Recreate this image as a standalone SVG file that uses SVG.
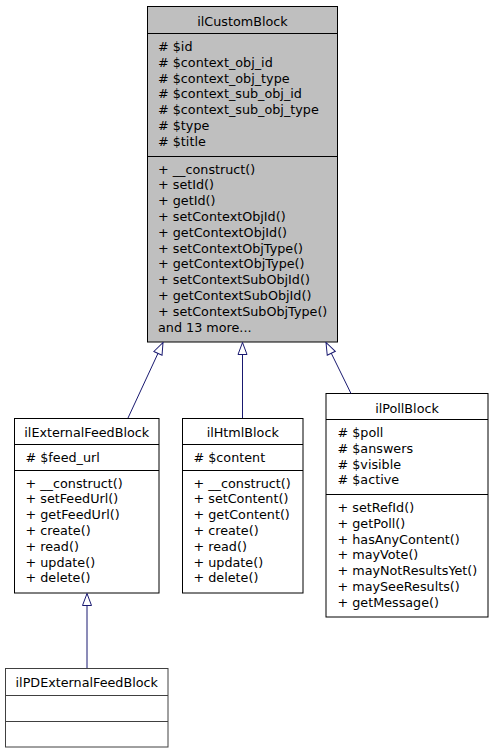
<svg xmlns="http://www.w3.org/2000/svg" width="492" height="755" viewBox="0 0 492 755">
<style>
text{font-family:"DejaVu Sans","Liberation Sans",sans-serif;font-size:12.75px;fill:#000}
.t{text-anchor:middle}
.box{fill:#fff;stroke:#000;stroke-width:1}
.main{fill:#bfbfbf;stroke:#000;stroke-width:1}
.sep{stroke:#000;stroke-width:1}
.edge{fill:none;stroke:#191970;stroke-width:1}
</style>
<defs>
<marker id="inh" markerWidth="14" markerHeight="12" refX="13" refY="6" orient="auto" markerUnits="userSpaceOnUse" viewBox="0 0 14 12">
<path d="M13,6 L1,1.5 L1,10.5 Z" fill="#fff" stroke="#191970" stroke-width="1"/>
</marker>
</defs>
<rect width="492" height="755" fill="#fff"/>
<g id="ilCustomBlock">
<rect class="main" x="147.5" y="6.5" width="190" height="335.5"/>
<line class="sep" x1="147.5" y1="33.5" x2="337.5" y2="33.5"/>
<line class="sep" x1="147.5" y1="156.5" x2="337.5" y2="156.5"/>
<text class="t" x="242.5" y="25.5">ilCustomBlock</text>
<text x="158" y="51"># $id</text>
<text x="158" y="66.8"># $context_obj_id</text>
<text x="158" y="82.6"># $context_obj_type</text>
<text x="158" y="98.4"># $context_sub_obj_id</text>
<text x="158" y="114.2"># $context_sub_obj_type</text>
<text x="158" y="130"># $type</text>
<text x="158" y="145.8"># $title</text>
<text x="158" y="173.5">+ __construct()</text>
<text x="158" y="189.3">+ setId()</text>
<text x="158" y="205.1">+ getId()</text>
<text x="158" y="220.9">+ setContextObjId()</text>
<text x="158" y="236.7">+ getContextObjId()</text>
<text x="158" y="252.5">+ setContextObjType()</text>
<text x="158" y="268.3">+ getContextObjType()</text>
<text x="158" y="284.1">+ setContextSubObjId()</text>
<text x="158" y="299.9">+ getContextSubObjId()</text>
<text x="158" y="315.7">+ setContextSubObjType()</text>
<text x="158" y="331.5">and 13 more...</text>
</g>
<g id="ilExternalFeedBlock">
<rect class="box" x="14.5" y="418.5" width="144.5" height="174.5"/>
<line class="sep" x1="14.5" y1="444.5" x2="159" y2="444.5"/>
<line class="sep" x1="14.5" y1="470.5" x2="159" y2="470.5"/>
<text class="t" x="86.75" y="437">ilExternalFeedBlock</text>
<text x="25.5" y="461.5"># $feed_url</text>
<text x="25.5" y="487.5">+ __construct()</text>
<text x="25.5" y="503.3">+ setFeedUrl()</text>
<text x="25.5" y="519.1">+ getFeedUrl()</text>
<text x="25.5" y="534.9">+ create()</text>
<text x="25.5" y="550.7">+ read()</text>
<text x="25.5" y="566.5">+ update()</text>
<text x="25.5" y="582.3">+ delete()</text>
</g>
<g id="ilHtmlBlock">
<rect class="box" x="182.5" y="418.5" width="120.5" height="174.5"/>
<line class="sep" x1="182.5" y1="444.5" x2="303" y2="444.5"/>
<line class="sep" x1="182.5" y1="470.5" x2="303" y2="470.5"/>
<text class="t" x="242.75" y="437">ilHtmlBlock</text>
<text x="193.5" y="461.5"># $content</text>
<text x="193.5" y="487.5">+ __construct()</text>
<text x="193.5" y="503.3">+ setContent()</text>
<text x="193.5" y="519.1">+ getContent()</text>
<text x="193.5" y="534.9">+ create()</text>
<text x="193.5" y="550.7">+ read()</text>
<text x="193.5" y="566.5">+ update()</text>
<text x="193.5" y="582.3">+ delete()</text>
</g>
<g id="ilPollBlock">
<rect class="box" x="326" y="393.5" width="162" height="223.5"/>
<line class="sep" x1="326" y1="419.5" x2="488" y2="419.5"/>
<line class="sep" x1="326" y1="494.5" x2="488" y2="494.5"/>
<text class="t" x="407" y="413">ilPollBlock</text>
<text x="337.5" y="437"># $poll</text>
<text x="337.5" y="452.8"># $answers</text>
<text x="337.5" y="468.6"># $visible</text>
<text x="337.5" y="484.4"># $active</text>
<text x="337.5" y="512">+ setRefId()</text>
<text x="337.5" y="527.8">+ getPoll()</text>
<text x="337.5" y="543.6">+ hasAnyContent()</text>
<text x="337.5" y="559.4">+ mayVote()</text>
<text x="337.5" y="575.2">+ mayNotResultsYet()</text>
<text x="337.5" y="591">+ maySeeResults()</text>
<text x="337.5" y="606.8">+ getMessage()</text>
</g>
<g id="ilPDExternalFeedBlock">
<rect class="box" x="5.5" y="668.5" width="162.5" height="78.5" style="stroke:#404040"/>
<line class="sep" x1="5.5" y1="695.5" x2="168" y2="695.5" style="stroke:#404040"/>
<line class="sep" x1="5.5" y1="721.5" x2="168" y2="721.5" style="stroke:#404040"/>
<text class="t" x="86.75" y="687">ilPDExternalFeedBlock</text>
</g>
<g id="connectors">
<path class="edge" d="M128,418 L163,342.5" marker-end="url(#inh)"/>
<path class="edge" d="M242.5,418 L242.5,342.5" marker-end="url(#inh)"/>
<path class="edge" d="M351,393.5 L326,342.5" marker-end="url(#inh)"/>
<path class="edge" d="M87,668 L87,593.5" marker-end="url(#inh)"/>
</g>
</svg>
